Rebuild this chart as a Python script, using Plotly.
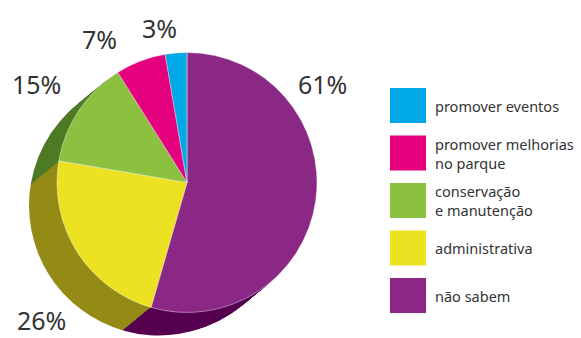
import plotly.graph_objects as go

# ---- data ----
categories = ["não sabem", "administrativa", "conservação e manutenção",
              "promover melhorias no parque", "promover eventos"]
values = [61, 26, 15, 7, 3]
pct_labels = ["61%", "26%", "15%", "7%", "3%"]
top_colors = ["#8B2785", "#EDE222", "#8BC040", "#E5007E", "#00A9E6"]
side_colors = ["#560050", "#948B17", "#4E7A25", "#8A004C", "#006A91"]

legend_order = [4, 3, 2, 1, 0]
legend_text = {
    0: "não sabem",
    1: "administrativa",
    2: "conservação<br>e manutenção",
    3: "promover melhorias<br>no parque",
    4: "promover eventos",
}

W, H = 581, 338
FONT = "Noto Sans"
TXT = "#333333"

def px(x):
    return x / W

def py(y):
    return 1 - y / H

# pie top face (pixels)
left, right, top, bottom = 57, 317, 52, 313
dx_depth, dy_depth = -28, 23
n_layers = 24

fig = go.Figure()

for k in range(n_layers, 0, -1):
    f = k / n_layers
    ox, oy = dx_depth * f, dy_depth * f
    fig.add_trace(go.Pie(
        labels=categories, values=values, sort=False, direction="clockwise",
        rotation=0, textinfo="none", hoverinfo="skip", showlegend=False,
        marker=dict(colors=side_colors, line=dict(width=0)),
        domain=dict(x=[px(left + ox), px(right + ox)],
                    y=[py(bottom + oy), py(top + oy)]),
    ))

fig.add_trace(go.Pie(
    labels=categories, values=values, sort=False, direction="clockwise",
    rotation=0, textinfo="none", showlegend=False,
    marker=dict(colors=top_colors, line=dict(width=0.6, color="rgba(255,255,255,0.7)")),
    domain=dict(x=[px(left), px(right)], y=[py(bottom), py(top)]),
))

# percentage labels (pixel centres)
label_pos = [(322, 84), (41, 320), (36, 84), (99, 39), (160, 28)]
annotations = []
for lab, (lx, ly) in zip(pct_labels, label_pos):
    annotations.append(dict(
        x=px(lx), y=py(ly), xref="paper", yref="paper", text=lab,
        showarrow=False, xanchor="center", yanchor="middle",
        font=dict(family=FONT, size=25, color=TXT)))

# manual legend
shapes = []
sq_x0, sq_size = 390, 35
row_top0, row_pitch = 88, 47.5
for r, idx in enumerate(legend_order):
    y0 = row_top0 + r * row_pitch
    shapes.append(dict(type="rect", xref="paper", yref="paper",
                       x0=px(sq_x0), x1=px(sq_x0 + 36), y0=py(y0 + sq_size), y1=py(y0),
                       fillcolor=top_colors[idx], line=dict(width=0)))
    cy = y0 + sq_size / 2
    annotations.append(dict(
        x=px(433), y=py(cy), xref="paper", yref="paper", text=legend_text[idx],
        showarrow=False, xanchor="left", yanchor="middle", align="left",
        font=dict(family=FONT, size=14.5, color=TXT)))

fig.update_layout(
    width=W, height=H, margin=dict(l=0, r=0, t=0, b=0),
    paper_bgcolor="white", plot_bgcolor="white",
    showlegend=False, shapes=shapes, annotations=annotations,
)

fig.write_html("out.html")
